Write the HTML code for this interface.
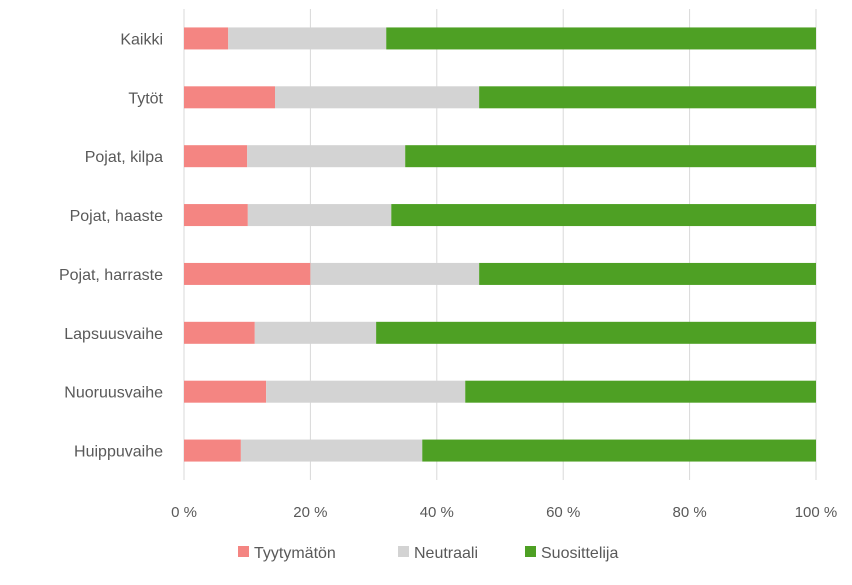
<!DOCTYPE html>
<html><head><meta charset="utf-8"><style>
body{margin:0;background:#fff;}
svg{font-family:"Liberation Sans",sans-serif;}
</style></head><body>
<svg id="chart" width="852" height="580"></svg>
<script>
const categories=["Kaikki","Tytöt","Pojat, kilpa","Pojat, haaste","Pojat, harraste","Lapsuusvaihe","Nuoruusvaihe","Huippuvaihe"];
const tyytymaton=[7.0,14.4,10.0,10.1,20.0,11.2,13.0,9.0];
const neutraali=[25.0,32.3,25.0,22.7,26.7,19.2,31.5,28.7];
const suosittelija=[68.0,53.3,65.0,67.2,53.3,69.6,55.5,62.3];
const ticks=[0,20,40,60,80,100];
const tickLabels=["0 %","20 %","40 %","60 %","80 %","100 %"];
const seriesNames=["Tyytymätön","Neutraali","Suosittelija"];
const colors=["#f48582","#d3d3d3","#4ea024"];
const NS="http://www.w3.org/2000/svg";
const svg=document.getElementById("chart");
const x0=184,x1=816,yTop=9,yBot=480;
const xs=v=>x0+(x1-x0)*v/100;
const rowH=(yBot-yTop)/categories.length;
const yc=i=>yTop+rowH*(i+0.5);
function mk(t,a){const e=document.createElementNS(NS,t);for(const k in a)e.setAttribute(k,a[k]);svg.appendChild(e);return e;}
ticks.forEach((t,i)=>{
 const g=mk("line",{x1:xs(t),x2:xs(t),y1:yTop,y2:yBot,stroke:"#d9d9d9","stroke-width":1});
 
 
 const l=mk("text",{x:xs(t),y:517,"text-anchor":"middle","font-size":15,fill:"#595959"});
 l.textContent=tickLabels[i];
 
 
});
const series=[tyytymaton,neutraali,suosittelija];
categories.forEach((c,i)=>{
 let acc=0;
 series.forEach((s,j)=>{
  const r=mk("rect",{x:xs(acc),y:yc(i)-11,width:xs(acc+s[i])-xs(acc),height:22,fill:colors[j]});
  
  
  acc+=s[i];
 });
 const t=mk("text",{x:163,y:yc(i)+6,"text-anchor":"end","font-size":16,fill:"#595959"});
 t.textContent=c;
 
 
});
const lx=[238,398,525];
seriesNames.forEach((n,j)=>{
 const r=mk("rect",{x:lx[j],y:546,width:11,height:11,fill:colors[j]});
 
 
 const t=mk("text",{x:lx[j]+16,y:558,"font-size":16,fill:"#595959"});
 t.textContent=n;
 
 
});
</script>
</body></html>
